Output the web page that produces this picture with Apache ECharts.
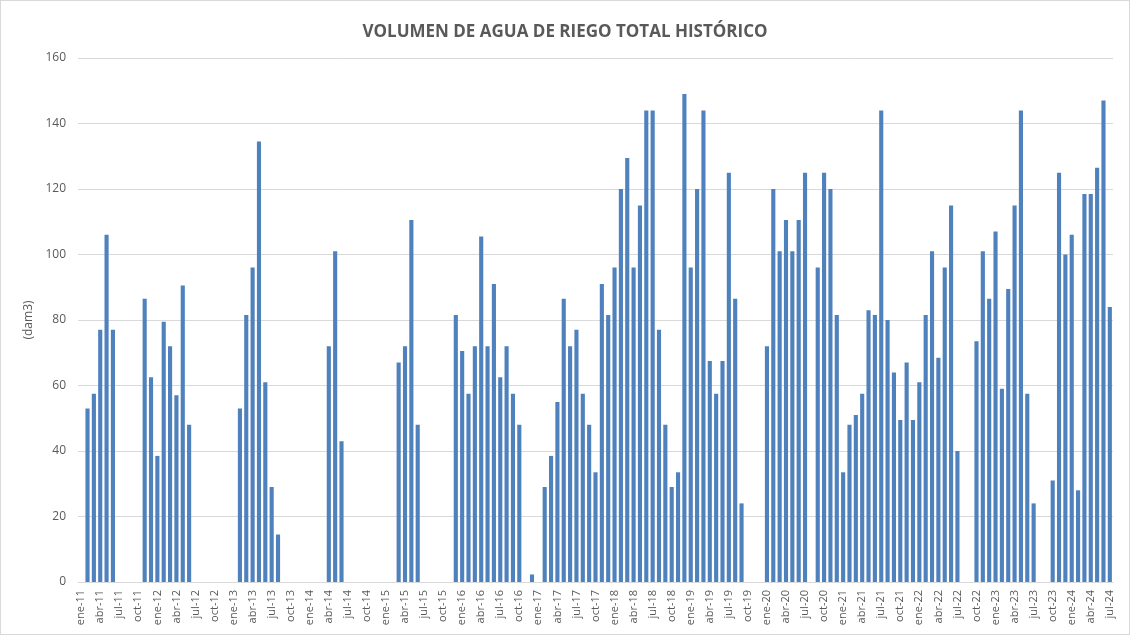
<!DOCTYPE html>
<html>
<head>
<meta charset="utf-8">
<title>Volumen de agua de riego</title>
<script src="https://cdn.jsdelivr.net/npm/echarts@6/dist/echarts.min.js"></script>
<style>
  html, body { margin: 0; padding: 0; background: #fff; }
  #chart { width: 1128px; height: 633px; border: 1px solid #d9d9d9; }
</style>
</head>
<body>
<div id="chart"></div>
<script>
// meses y años del eje
const monthNames = ['ene', 'feb', 'mar', 'abr', 'may', 'jun', 'jul', 'ago', 'sep', 'oct', 'nov', 'dic']
const years = [2011, 2012, 2013, 2014, 2015, 2016, 2017, 2018, 2019, 2020, 2021, 2022, 2023, 2024]
const yTicks = [0, 20, 40, 60, 80, 100, 120, 140, 160]

// volumen mensual (dam3), null = sin riego
const vol2011 = [null, 53, 57.5, 77, 106, 77, null, null, null, null, 86.5, 62.5]
const vol2012 = [38.5, 79.5, 72, 57, 90.5, 48, null, null, null, null, null, null]
const vol2013 = [null, 53, 81.5, 96, 134.5, 61, 29, 14.5, null, null, null, null]
const vol2014 = [null, null, null, 72, 101, 43, null, null, null, null, null, null]
const vol2015 = [null, null, 67, 72, 110.5, 48, null, null, null, null, null, 81.5]
const vol2016 = [70.5, 57.5, 72, 105.5, 72, 91, 62.5, 72, 57.5, 48, null, 2.3]
const vol2017 = [null, 29, 38.5, 55, 86.5, 72, 77, 57.5, 48, 33.5, 91, 81.5]
const vol2018 = [96, 120, 129.5, 96, 115, 144, 144, 77, 48, 29, 33.5, 149]
const vol2019 = [96, 120, 144, 67.5, 57.5, 67.5, 125, 86.5, 24, null, null, null]
const vol2020 = [72, 120, 101, 110.5, 101, 110.5, 125, null, 96, 125, 120, 81.5]
const vol2021 = [33.5, 48, 51, 57.5, 83, 81.5, 144, 80, 64, 49.5, 67, 49.5]
const vol2022 = [61, 81.5, 101, 68.5, 96, 115, 40, null, null, 73.5, 101, 86.5]
const vol2023 = [107, 59, 89.5, 115, 144, 57.5, 24, null, null, 31, 125, 100]
const vol2024 = [106, 28, 118.5, 118.5, 126.5, 147, 84]

const categories = []
years.forEach(y => {
  monthNames.forEach(m => categories.push(m + '-' + String(y).slice(2)))
})
const volumes = [].concat(vol2011, vol2012, vol2013, vol2014, vol2015, vol2016, vol2017,
  vol2018, vol2019, vol2020, vol2021, vol2022, vol2023, vol2024)
categories.length = volumes.length

const chart = echarts.init(document.getElementById('chart'))
const textColor = '#595959'
const font = 'Open Sans'

const option = {
  animation: false,
  title: {
    text: 'VOLUMEN DE AGUA DE RIEGO TOTAL HISTÓRICO',
    left: 'center',
    top: 18,
    textStyle: { color: textColor, fontSize: 17, fontWeight: 'bold', fontFamily: font }
  },
  grid: { left: 77, right: 16, top: 57, bottom: 52 },
  xAxis: {
    type: 'category',
    data: categories,
    axisLine: { lineStyle: { color: '#d9d9d9' } },
    axisTick: { show: false },
    axisLabel: {
      interval: 2,
      rotate: 90,
      color: textColor,
      fontSize: 11,
      fontFamily: font,
      margin: 8
    }
  },
  yAxis: {
    type: 'value',
    min: yTicks[0],
    max: yTicks[yTicks.length - 1],
    interval: 20,
    name: '(dam3)',
    nameLocation: 'middle',
    nameGap: 36,
    nameTextStyle: { color: textColor, fontSize: 12, fontFamily: font },
    axisLine: { show: false },
    axisTick: { show: false },
    axisLabel: { color: textColor, fontSize: 12, fontFamily: font, margin: 12 },
    splitLine: { lineStyle: { color: '#d9d9d9' } }
  },
  series: [
    {
      name: 'Volumen',
      type: 'bar',
      data: volumes,
      barCategoryGap: '35%',
      itemStyle: { color: '#4f81bd' }
    }
  ]
}

chart.setOption(option)
</script>
</body>
</html>
